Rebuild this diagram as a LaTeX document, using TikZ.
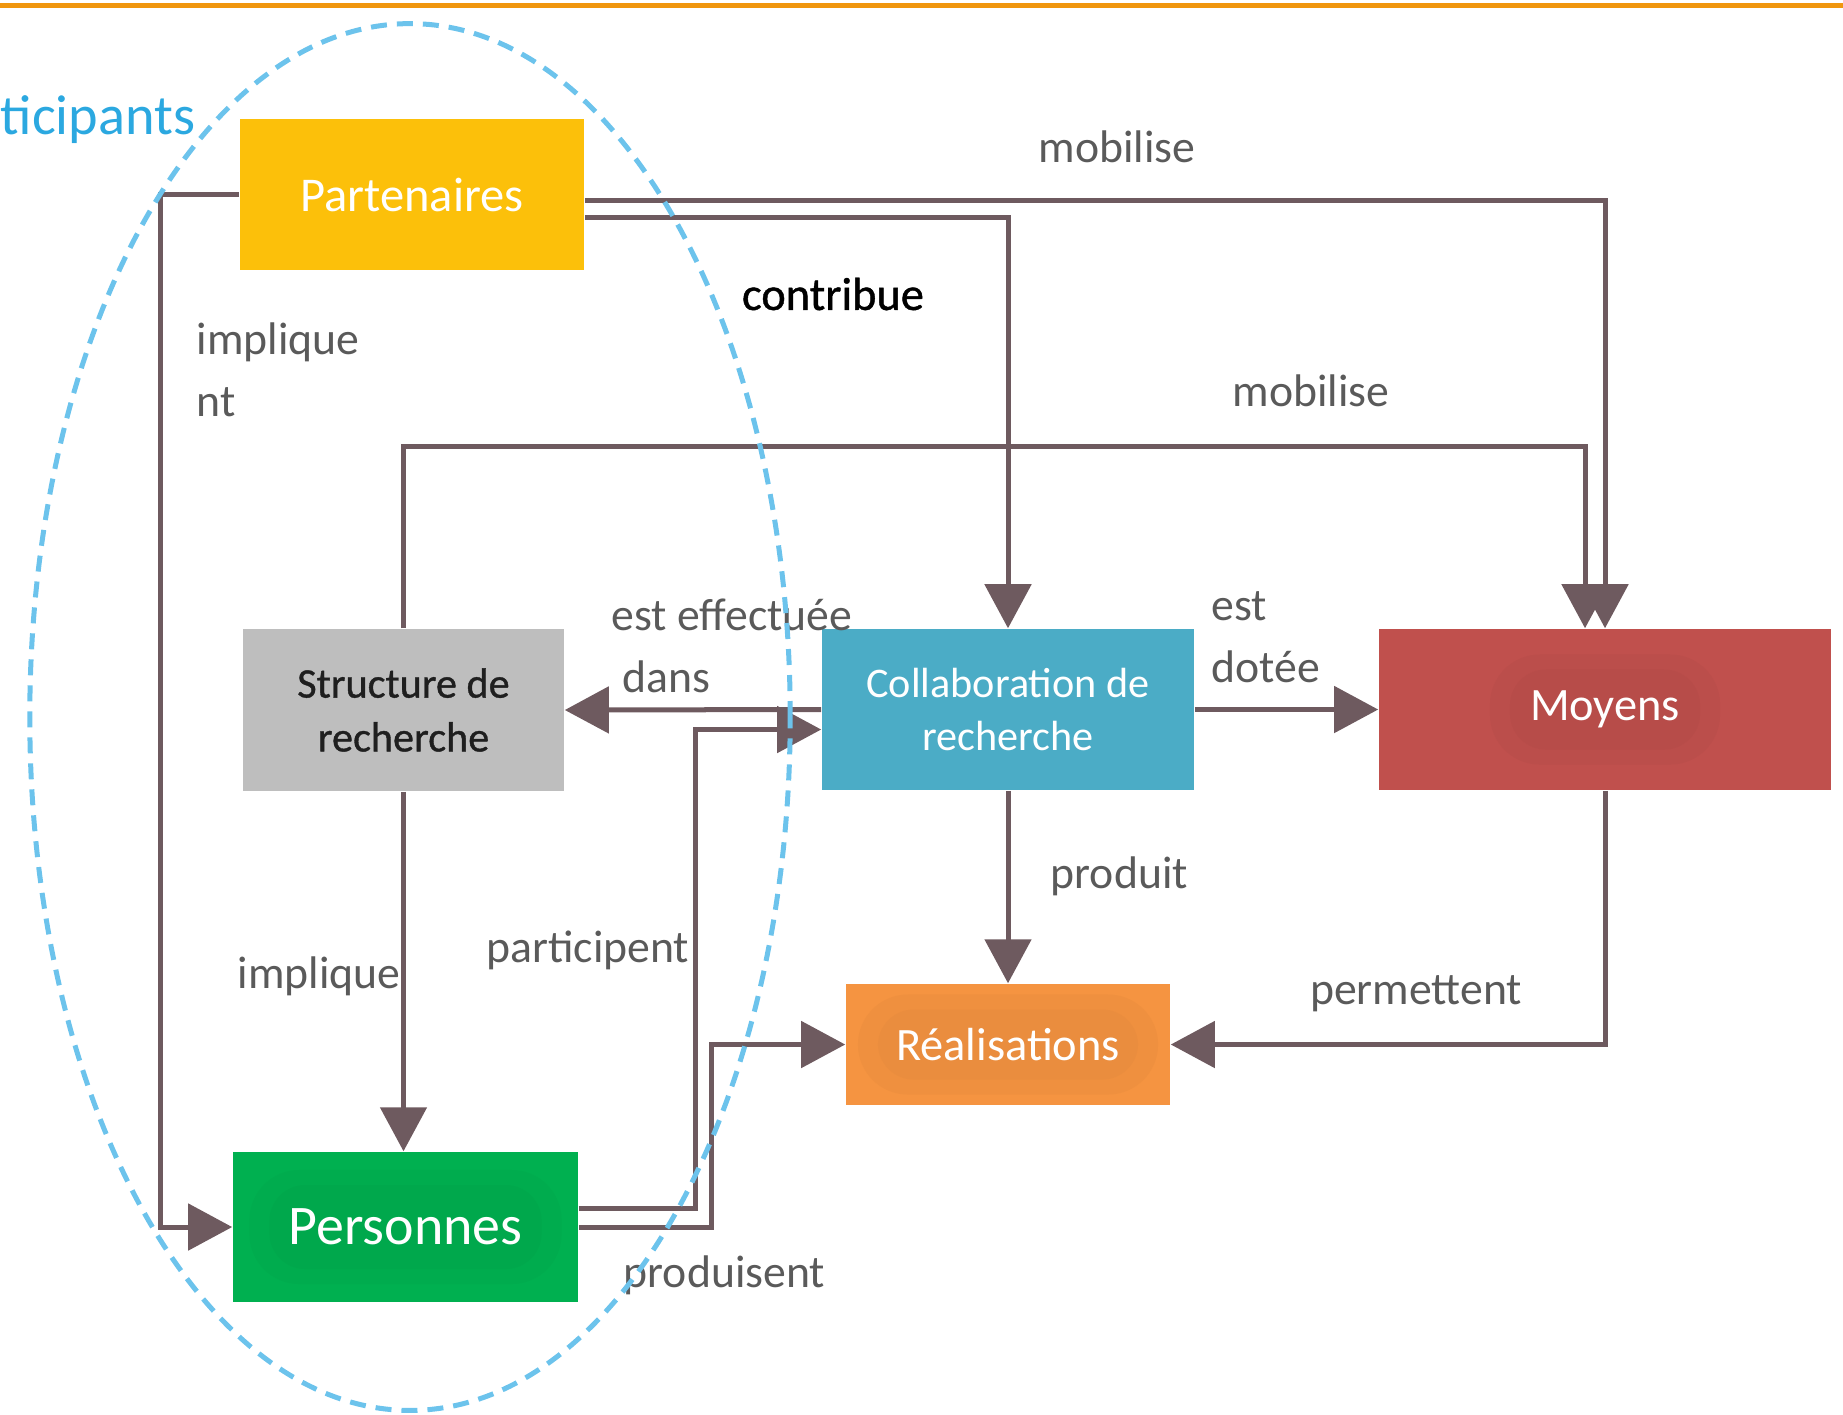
\documentclass[tikz,border=0pt]{standalone}
\usepackage{fontspec}
\setmainfont{Carlito}
\usetikzlibrary{arrows.meta,calc}
\definecolor{topline}{HTML}{F0960E}
\definecolor{partc}{HTML}{FCC00A}
\definecolor{structc}{HTML}{BEBEBE}
\definecolor{collabc}{HTML}{4BACC6}
\definecolor{moyc}{HTML}{C0504D}
\definecolor{realc}{HTML}{F59441}
\definecolor{persc}{HTML}{00B050}
\definecolor{connc}{HTML}{6E5A5F}
\definecolor{lblc}{HTML}{5A5A5A}
\definecolor{ellc}{HTML}{6CC3EC}
\definecolor{partxt}{HTML}{2BA8E0}
\begin{document}
\begin{tikzpicture}[x=0.01cm,y=-0.01cm,
  box/.style={rectangle, draw=none, inner sep=0pt, align=center, text=white},
  glow/.style n args={3}{path picture={
      \fill[#1!97.5!black, rounded corners=0.5cm]
      ([shift={(-#2,-#3)}]path picture bounding box.center) rectangle
      ([shift={(#2,#3)}]path picture bounding box.center);
      \fill[#1!95.5!black, rounded corners=0.36cm]
      ([shift={(-#2+0.2cm,-#3+0.15cm)}]path picture bounding box.center) rectangle
      ([shift={(#2-0.2cm,#3-0.15cm)}]path picture bounding box.center);}},
  conn/.style={draw=connc, line width=0.05cm,
      -{Triangle[length=0.44cm,width=0.46cm]}},
  lbl/.style={text=lblc, inner sep=0pt, align=left,
      font=\fontsize{13}{16.2}\selectfont},
]
\useasboundingbox (0,0) rectangle (1843,1414);
\draw[topline, line width=0.05cm] (0,5) -- (1843,5);

% boxes
\node[box, fill=partc, minimum width=3.44cm, minimum height=1.51cm,
      font=\fontsize{13.8}{16}\selectfont] (part) at (412,194.5) {Partenaires};
\node[box, fill=structc, text=black!88, minimum width=3.21cm, minimum height=1.62cm,
      font=\fontsize{12}{15.3}\selectfont\addfontfeature{FakeBold=0.9}] (struct) at (403.5,710) {Structure de\\recherche};
\node[box, fill=collabc, minimum width=3.72cm, minimum height=1.61cm,
      font=\fontsize{12}{15.3}\selectfont] (collab) at (1008,709.5) {Collaboration de\\recherche};
\node[box, fill=moyc, glow={moyc}{1.15cm}{0.55cm},
      minimum width=4.52cm, minimum height=1.61cm,
      font=\fontsize{13.2}{16}\selectfont] (moyens) at (1605,709.5) {Moyens};
\node[box, fill=realc, glow={realc}{1.5cm}{0.5cm},
      minimum width=3.24cm, minimum height=1.21cm,
      font=\fontsize{13.2}{16}\selectfont] (real) at (1008,1044.5) {Réalisations};
\node[box, fill=persc, glow={persc}{1.56cm}{0.57cm},
      minimum width=3.45cm, minimum height=1.50cm,
      font=\fontsize{15.9}{18}\selectfont] (pers) at (405.5,1227) {Personnes};

% connectors
\draw[conn] (part.west) -- ++(-79,0) |- (pers.west);
\draw[conn] ($(part.east)+(0,6)$) -| (moyens.north);
\draw[conn] ($(part.east)+(0,23)$) -| (collab.north);
\draw[conn] (struct.north) -- ++(0,-182) -| ($(moyens.north)+(-20,0)$);
\draw[conn] (collab.west) -- (struct.east);
\draw[conn] ($(pers.east)+(0,-19)$) -| ($(collab.west)+(-126,20)$) -- ($(collab.west)+(0,20)$);
\draw[conn] (pers.east) -| ($(real.west)+(-134,0)$) -- (real.west);
\draw[conn] (collab.south) -- (real.north);
\draw[conn] (collab.east) -- (moyens.west);
\draw[conn] (moyens.south) |- (real.east);
\draw[conn] (struct.south) -- (struct.south |- pers.north);

% labels
\node[lbl, anchor=west] (l1) at (196,369.5) {implique\\[0.05cm]nt};
\node[lbl] (l2) at (1117,147) {mobilise};
\node[lbl, text=black, font=\fontsize{13.2}{16}\selectfont\addfontfeature{FakeBold=0.9}] (l3) at (833,294) {contribue};
\node[lbl] (l4) at (1311,391) {mobilise};
\node[lbl, anchor=west] (l5) at (611,645.5) {est effectuée\\[0.05cm]\hspace*{0.11cm}dans};
\node[lbl, anchor=west] (l6) at (1211,637.5) {est\\[0.05cm]dotée};
\node[lbl, anchor=west] (l7) at (1050,876) {produit};
\node[lbl, anchor=east] (l8) at (690,950) {participent};
\node[lbl, anchor=west] (l9) at (237,976) {implique};
\node[lbl] (l10) at (1416,994) {permettent};
\node[lbl, anchor=west] (l11) at (623,1275) {produisent};

% participants ellipse
\draw[ellc, line width=0.05cm, dash pattern=on 0.16cm off 0.1cm]
  (410,717) ellipse [x radius=3.80cm, y radius=6.93cm];
\node[inner sep=0pt, text=partxt, anchor=east, font=\fontsize{16}{19}\selectfont] (tp) at (196,120) {ticipants};
\end{tikzpicture}
\end{document}
